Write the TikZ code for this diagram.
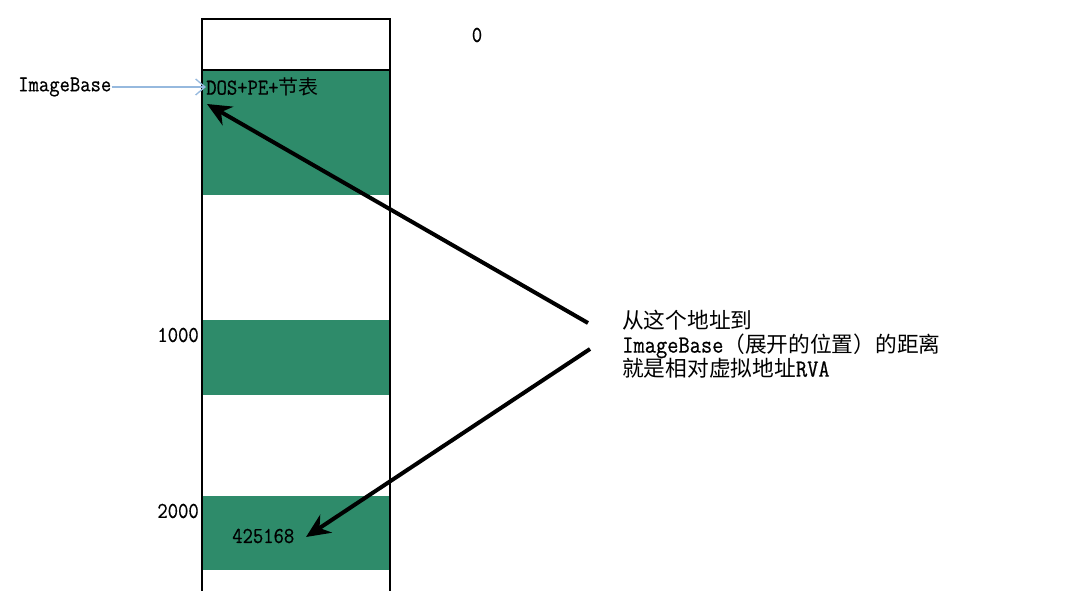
\documentclass[tikz,border=0pt]{standalone}
\usepackage{fontspec}
\newfontfamily\mono[FakeStretch=0.885,FakeBold=0.6]{Latin Modern Mono}
\newfontfamily\cjk[Scale=0.88]{Noto Sans CJK SC}
\usetikzlibrary{arrows.meta}
\definecolor{band}{RGB}{46,139,106}
\definecolor{pale}{RGB}{150,185,222}
\begin{document}
\begin{tikzpicture}[x=0.75pt,y=-0.75pt,
  lbl/.style={inner sep=0pt, font=\mono\fontsize{17}{19}\selectfont},
  note/.style={inner sep=0pt, align=left, font=\mono\fontsize{18.5}{18}\selectfont},
  wall/.style={line width=1.7pt, black},
  bigarrow/.style={line width=3pt, -{Stealth[length=18pt,width=16pt]}},
  thinarrow/.style={pale, line width=1pt, -{Straight Barb[length=7pt,width=12pt]}}]
\useasboundingbox (0,0) rectangle (1075,591);
% green bands
\fill[band] (202,71) rectangle (390,195);
\fill[band] (202,320) rectangle (390,395);
\fill[band] (202,496) rectangle (390,570);
% column
\draw[wall] (202,592) -- (202,19) -- (390,19) -- (390,592);
\draw[wall] (202,70) -- (390,70);
% labels
\node[lbl, anchor=center] (zero) at (477,35) {0};
\node[lbl, anchor=west] (ib) at (18,87) {ImageBase};
\node[lbl, anchor=west] (dos) at (206,87) {DOS+PE+{\cjk 节表}};
\node[lbl, anchor=east] (k1) at (199,335) {1000};
\node[lbl, anchor=east] (k2) at (199,511) {2000};
\node[lbl, anchor=west] (num) at (232,536) {425168};
\node[note, anchor=north west] (txt) at (622,310) {{\cjk 从这个地址到}\\ImageBase{\cjk （展开的位置）的距离}\\{\cjk 就是相对虚拟地址}RVA};
% connectors
\draw[thinarrow] (ib.east) -- (dos.west);
\coordinate (s1) at (588,323);
\coordinate (t1) at (207,104);
\coordinate (s2) at (590,349);
\coordinate (t2) at (306,537);
\draw[bigarrow] (s1) -- (t1);
\draw[bigarrow] (s2) -- (t2);
\end{tikzpicture}
\end{document}
